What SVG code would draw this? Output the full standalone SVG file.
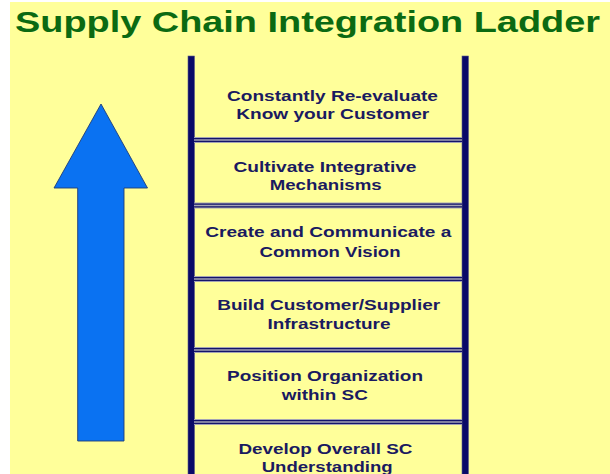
<svg xmlns="http://www.w3.org/2000/svg" width="610" height="474" viewBox="0 0 610 474">
  <style>
    .title { font-family: "Liberation Sans", Arial, sans-serif; font-weight: bold; font-size: 29px; fill: #0b6a12; }
    .step { font-family: "Liberation Sans", Arial, sans-serif; font-weight: bold; font-size: 15.5px; fill: #1a1a60; text-anchor: middle; }
    .rail { fill: #0a0a68; stroke: #5a5a8a; stroke-width: 0.6; }
    .rung-bg { fill: #a4a4b4; }
    .rung-line { stroke: #14146a; stroke-width: 1.3; }
  </style>
  <defs>
    <g id="rung">
      <rect class="rung-bg" x="194" y="0" width="268" height="6"/>
      <line class="rung-line" x1="194" y1="1.6" x2="462" y2="1.6"/>
      <line class="rung-line" x1="194" y1="4.4" x2="462" y2="4.4"/>
    </g>
  </defs>

  <rect x="0" y="0" width="610" height="474" fill="#ffffff"/>
  <rect x="10" y="2" width="600" height="472" fill="#ffff9a"/>

  <text class="title" x="15" y="32" textLength="585" lengthAdjust="spacingAndGlyphs">Supply Chain Integration Ladder</text>

  <!-- upward arrow -->
  <g id="arrow">
    <polygon points="101,104 147.5,188 124,188 124,441 77.7,441 77.7,188 54,188" fill="#0a72f2" stroke="#1e3c78" stroke-width="0.9"/>
  </g>

  <!-- ladder rails and rungs -->
  <g id="ladder">
    <rect class="rail" x="188" y="56" width="6.5" height="420"/>
    <rect class="rail" x="462" y="56" width="6.5" height="420"/>
    <use href="#rung" y="137"/>
    <use href="#rung" y="202.5"/>
    <use href="#rung" y="276"/>
    <use href="#rung" y="347"/>
    <use href="#rung" y="419"/>
  </g>

  <g id="step-6">
    <text class="step" x="332.5" y="100.5" textLength="211" lengthAdjust="spacingAndGlyphs">Constantly Re-evaluate</text>
    <text class="step" x="332.7" y="118.5" textLength="193" lengthAdjust="spacingAndGlyphs">Know your Customer</text>
  </g>
  <g id="step-5">
    <text class="step" x="325" y="171.5" textLength="183" lengthAdjust="spacingAndGlyphs">Cultivate Integrative</text>
    <text class="step" x="325.7" y="189.5" textLength="112" lengthAdjust="spacingAndGlyphs">Mechanisms</text>
  </g>
  <g id="step-4">
    <text class="step" x="328.3" y="236.5" textLength="246" lengthAdjust="spacingAndGlyphs">Create and Communicate a</text>
    <text class="step" x="330" y="256.5" textLength="141" lengthAdjust="spacingAndGlyphs">Common Vision</text>
  </g>
  <g id="step-3">
    <text class="step" x="328.7" y="310" textLength="223" lengthAdjust="spacingAndGlyphs">Build Customer/Supplier</text>
    <text class="step" x="329" y="328.5" textLength="123" lengthAdjust="spacingAndGlyphs">Infrastructure</text>
  </g>
  <g id="step-2">
    <text class="step" x="325" y="380.5" textLength="196" lengthAdjust="spacingAndGlyphs">Position Organization</text>
    <text class="step" x="324.8" y="400" textLength="86" lengthAdjust="spacingAndGlyphs">within SC</text>
  </g>
  <g id="step-1">
    <text class="step" x="325.5" y="453.5" textLength="174" lengthAdjust="spacingAndGlyphs">Develop Overall SC</text>
    <text class="step" x="327.2" y="471.5" textLength="131" lengthAdjust="spacingAndGlyphs">Understanding</text>
  </g>
</svg>
